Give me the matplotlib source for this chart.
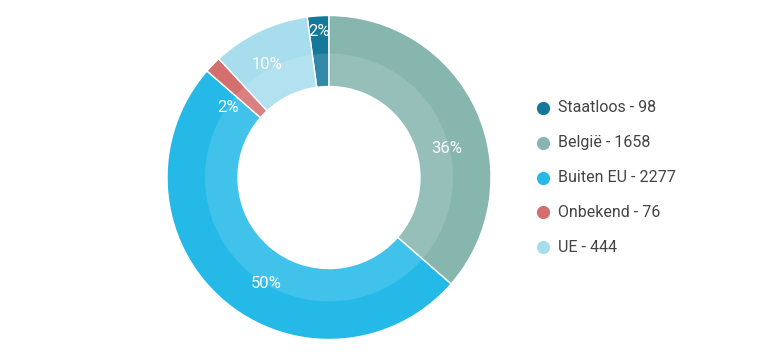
import numpy as np
import matplotlib.pyplot as plt
from matplotlib.patches import Wedge

plt.rcParams['font.family'] = ['Roboto', 'DejaVu Sans']

# data
labels = ['Staatloos', 'België', 'Buiten EU', 'Onbekend', 'UE']
values = [98, 1658, 2277, 76, 444]
colors = ['#13789A', '#86B6AE', '#25B9E8', '#D46F6F', '#A8DDEE']

# label placement tweaks (angle offset in degrees, radius as fraction of outer)
lbl_dang = [0, -10, 10, 9, 3]
lbl_rad = [0.91, 0.75, 0.755, 0.765, 0.805]

W, H = 777, 363
fig = plt.figure(figsize=(W / 100, H / 100), dpi=100)
ax = fig.add_axes([0, 0, 1, 1])

cx, cy = 329, H - 177.5
R_out, R_band, R_in = 162, 124, 91

total = sum(values)
start = 90 + 360 * values[0] / total

wedges, _ = ax.pie(values, colors=colors, startangle=start, counterclock=False,
                   center=(cx, cy), radius=R_out, frame=True,
                   wedgeprops=dict(width=R_out - R_in, edgecolor='white', linewidth=1))
ax.set_xlim(0, W)
ax.set_ylim(0, H)
ax.set_aspect('auto')
ax.axis('off')

# lighter inner band
ax.add_patch(Wedge((cx, cy), R_band, 0, 360, width=R_band - R_in,
                   facecolor='white', alpha=0.13, edgecolor='none'))

# percent labels
for w, v, da, rr in zip(wedges, values, lbl_dang, lbl_rad):
    mid = (w.theta1 + w.theta2) / 2 + da
    x = cx + rr * R_out * np.cos(np.radians(mid))
    y = cy + rr * R_out * np.sin(np.radians(mid)) - 1.5
    ax.text(x, y, f'{round(100 * v / total)}%', color='white', fontsize=12,
            ha='center', va='center')

# legend
ly0, dy = H - 108, 34.8
for i, (lab, v, c) in enumerate(zip(labels, values, colors)):
    y = ly0 - i * dy
    ax.plot(543, y, 'o', color=c, markersize=9.5, markeredgewidth=0)
    ax.text(558, y, f'{lab} - {v}', color='#444444', fontsize=11.5,
            ha='left', va='center')

fig.savefig('out.png', dpi=100)
